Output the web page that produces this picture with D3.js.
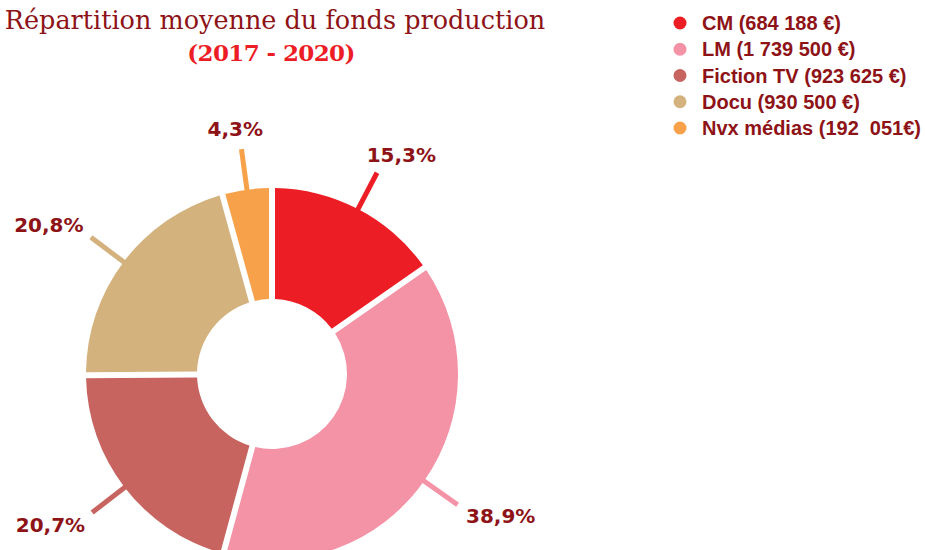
<!DOCTYPE html>
<html>
<head>
<meta charset="utf-8">
<script src="https://cdn.jsdelivr.net/npm/d3@7/dist/d3.min.js"></script>
<style>
  html, body { margin: 0; padding: 0; background: #ffffff; }
  svg { display: block; }
</style>
</head>
<body>
<svg id="chart" width="925" height="550"></svg>
<script>
// Average production fund split, 2017–2020 (euros)
const categories = ["CM", "LM", "Fiction TV", "Docu", "Nvx médias"];
const amounts = [684188, 1739500, 923625, 930500, 192051];
const legendLabels = [
  "CM (684 188 €)",
  "LM (1 739 500 €)",
  "Fiction TV (923 625 €)",
  "Docu (930 500 €)",
  "Nvx médias (192  051€)"
];
const colors = ["#ed1d25", "#f492a6", "#c8645f", "#d4b27e", "#f7a24b"];

const svg = d3.select("#chart");
const textDark = "#8e1317";

const cx = 272, cy = 374;
const outerR = 186, innerR = 75, tickR = 227;

// Title
svg.append("text")
  .attr("x", 275).attr("y", 29)
  .attr("text-anchor", "middle")
  .attr("font-family", "'DejaVu Serif', serif")
  .attr("font-size", 25.5)
  .attr("fill", textDark)
  .text("Répartition moyenne du fonds production");
svg.append("text")
  .attr("x", 271).attr("y", 61)
  .attr("text-anchor", "middle")
  .attr("font-family", "'DejaVu Serif', serif")
  .attr("font-weight", "bold")
  .attr("font-size", 23)
  .attr("letter-spacing", -0.6)
  .attr("fill", "#ed1d25")
  .text("(2017 - 2020)");

const color = d3.scaleOrdinal().domain(categories).range(colors);
const total = d3.sum(amounts);
const pctFmt = v => d3.format(".1f")(v * 100).replace(".", ",") + "%";

const data = categories.map((c, i) => ({ name: c, value: amounts[i] }));
const pie = d3.pie().value(d => d.value).sort(null);
const arcs = pie(data);

const arc = d3.arc()
  .innerRadius(innerR)
  .outerRadius(outerR)
  .padRadius(100)
  .padAngle(0.06);

const g = svg.append("g").attr("transform", `translate(${cx},${cy})`);

// Leader ticks
const mid = d => (d.startAngle + d.endAngle) / 2;
g.selectAll("line.tick")
  .data(arcs)
  .join("line")
  .attr("class", "tick")
  .attr("x1", d => Math.sin(mid(d)) * (outerR - 4))
  .attr("y1", d => -Math.cos(mid(d)) * (outerR - 4))
  .attr("x2", d => Math.sin(mid(d)) * tickR)
  .attr("y2", d => -Math.cos(mid(d)) * tickR)
  .attr("stroke", d => color(d.data.name))
  .attr("stroke-width", 5);

// Slices
g.selectAll("path.slice")
  .data(arcs)
  .join("path")
  .attr("class", "slice")
  .attr("d", arc)
  .attr("fill", d => color(d.data.name));

// Percentage labels beyond each tick
const labels = g.selectAll("text.pct")
  .data(arcs)
  .join("text")
  .attr("class", "pct")
  .attr("text-anchor", "middle")
  .attr("font-family", "'DejaVu Sans', sans-serif")
  .attr("font-weight", "bold")
  .attr("font-size", 20)
  .attr("fill", textDark)
  .text(d => pctFmt(d.value / total));

labels.each(function(d) {
  const a = mid(d);
  const w = this.getComputedTextLength();
  const ex = Math.sin(a) * tickR, ey = -Math.cos(a) * tickR;
  const tx = ex + Math.sin(a) * (w / 2 + 18);
  const ty = ey - Math.cos(a) * 20 + 7;
  d3.select(this).attr("x", tx).attr("y", ty);
});

// Legend
const legend = svg.append("g");
const rowY = d3.scalePoint().domain(categories).range([23, 128]);
const items = legend.selectAll("g")
  .data(categories)
  .join("g")
  .attr("transform", d => `translate(680,${rowY(d)})`);
items.append("circle")
  .attr("r", 6.5)
  .attr("fill", d => color(d));
items.append("text")
  .attr("x", 22)
  .attr("y", 7)
  .attr("font-family", "'Liberation Sans', Arial, sans-serif")
  .attr("font-weight", "bold")
  .attr("font-size", 20)
  .attr("fill", textDark)
  .style("white-space", "pre")
  .text((d, i) => legendLabels[i]);
</script>
</body>
</html>
